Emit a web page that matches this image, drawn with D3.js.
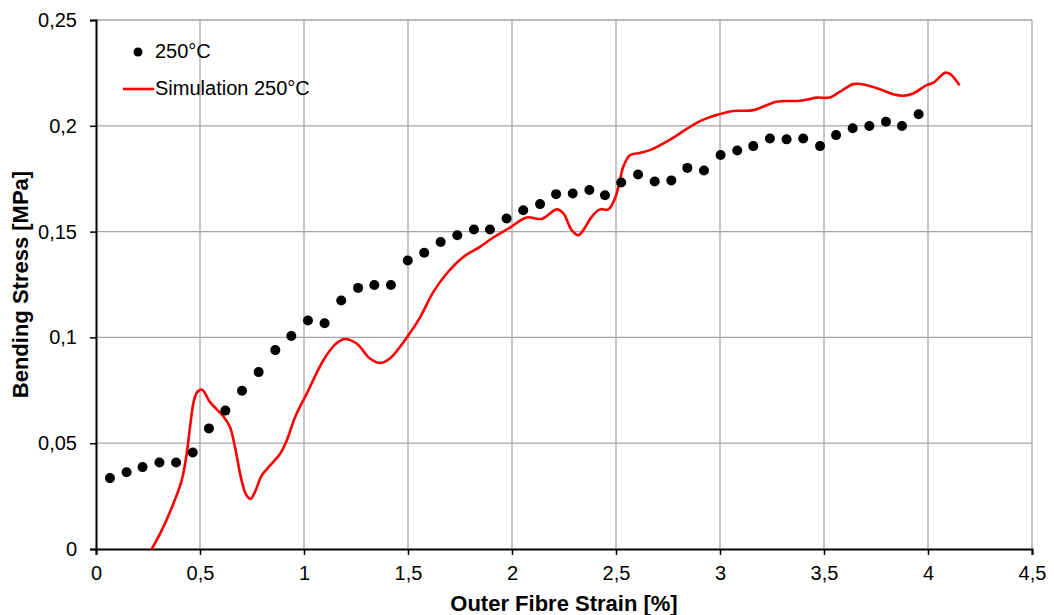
<!DOCTYPE html>
<html>
<head>
<meta charset="utf-8">
<script src="https://cdn.jsdelivr.net/npm/d3@7"></script>
<style>
  body { margin: 0; background: #fff; }
  svg text { font-family: Arial, "Liberation Sans", sans-serif; }
</style>
</head>
<body>
<svg id="chart" width="1054" height="615"></svg>
<script>
// measured points (strain %, stress MPa)
const measStrain = [0.067, 0.147, 0.224, 0.305, 0.385, 0.465, 0.543, 0.622, 0.702, 0.782,
  0.862, 0.939, 1.019, 1.099, 1.179, 1.260, 1.338, 1.418, 1.499, 1.578,
  1.657, 1.737, 1.817, 1.894, 1.974, 2.054, 2.135, 2.212, 2.292, 2.372,
  2.447, 2.525, 2.606, 2.686, 2.766, 2.843, 2.923, 3.003, 3.083, 3.160,
  3.240, 3.320, 3.400, 3.481, 3.558, 3.638, 3.718, 3.798, 3.875, 3.955]
const measStress = [0.0335, 0.0363, 0.0387, 0.0409, 0.0409, 0.0456, 0.057, 0.0654, 0.0748, 0.0836,
  0.094, 0.1007, 0.108, 0.1067, 0.1174, 0.1234, 0.1248, 0.1248, 0.1363, 0.140,
  0.1451, 0.1483, 0.151, 0.151, 0.1562, 0.1601, 0.163, 0.1677, 0.168, 0.1697,
  0.1672, 0.1732, 0.177, 0.1737, 0.1742, 0.1801, 0.1789, 0.1862, 0.1883, 0.1904,
  0.194, 0.1936, 0.194, 0.1904, 0.1956, 0.1988, 0.1999, 0.2019, 0.1999, 0.2055]

// simulation curve
const simStrain = [0.268, 0.316, 0.372, 0.412, 0.436, 0.452, 0.471, 0.487, 0.510, 0.548,
  0.612, 0.644, 0.668, 0.700, 0.724, 0.744, 0.764, 0.797, 0.837, 0.885,
  0.917, 0.957, 1.013, 1.093, 1.149, 1.192, 1.253, 1.317, 1.365, 1.413,
  1.502, 1.558, 1.622, 1.686, 1.766, 1.846, 1.910, 1.990, 2.071, 2.143,
  2.215, 2.247, 2.287, 2.319, 2.343, 2.383, 2.423, 2.463, 2.495, 2.516,
  2.535, 2.567, 2.615, 2.663, 2.760, 2.840, 2.904, 2.984, 3.064, 3.160,
  3.272, 3.384, 3.465, 3.529, 3.577, 3.641, 3.705, 3.769, 3.833, 3.881,
  3.929, 3.993, 4.025, 4.082, 4.106, 4.151]
const simStress = [0, 0.0088, 0.0214, 0.0324, 0.045, 0.0576, 0.0702, 0.0742, 0.0753, 0.0694,
  0.0627, 0.0576, 0.0482, 0.0324, 0.0253, 0.0237, 0.0269, 0.0348, 0.0395, 0.045,
  0.0513, 0.0623, 0.0734, 0.0892, 0.0966, 0.0992, 0.0971, 0.090, 0.0879, 0.090,
  0.101, 0.1095, 0.1215, 0.1302, 0.138, 0.1428, 0.1472, 0.1519, 0.1567, 0.156,
  0.1605, 0.1586, 0.1507, 0.1483, 0.1507, 0.157, 0.1605, 0.1605, 0.1657, 0.1728,
  0.1806, 0.1861, 0.1872, 0.1885, 0.1935, 0.1985, 0.2022, 0.2051, 0.207, 0.2074,
  0.2114, 0.2118, 0.2133, 0.2134, 0.2161, 0.2197, 0.2192, 0.2173, 0.2149, 0.2142,
  0.2153, 0.2192, 0.2203, 0.2251, 0.2245, 0.2192]

const xTicks = [0, 0.5, 1, 1.5, 2, 2.5, 3, 3.5, 4, 4.5]
const yTicks = [0, 0.05, 0.1, 0.15, 0.2, 0.25]
const seriesNames = ["250°C", "Simulation 250°C"]

const svg = d3.select("#chart")
const margin = {left: 96, right: 22, top: 20, bottom: 66}
const W = 1054 - margin.left - margin.right
const H = 615 - margin.top - margin.bottom

const x = d3.scaleLinear().domain([0, 4.5]).range([0, W])
const y = d3.scaleLinear().domain([0, 0.25]).range([H, 0])
const fmt = d => d3.format("~g")(d).replace(".", ",")

const g = svg.append("g").attr("transform", `translate(${margin.left},${margin.top})`)

// grid
g.append("g")
  .selectAll("line")
  .data(xTicks.slice(1))
  .enter()
  .append("line")
  .attr("x1", d => x(d)).attr("x2", d => x(d))
  .attr("y1", 0).attr("y2", H)
  .attr("stroke", "#a6a6a6").attr("stroke-width", 1.3)
g.append("g")
  .selectAll("line")
  .data(yTicks.slice(1))
  .enter()
  .append("line")
  .attr("x1", 0).attr("x2", W)
  .attr("y1", d => y(d)).attr("y2", d => y(d))
  .attr("stroke", "#a6a6a6").attr("stroke-width", 1.3)

// axes
const xAxis = g.append("g")
  .attr("transform", `translate(0,${H})`)
  .call(d3.axisBottom(x).tickValues(xTicks).tickFormat(fmt).tickSize(6).tickPadding(11))
const yAxis = g.append("g")
  .call(d3.axisLeft(y).tickValues(yTicks).tickFormat(fmt).tickSize(6).tickPadding(13))
;[xAxis, yAxis].forEach(a => {
  a.select(".domain").attr("stroke", "#000").attr("stroke-width", 2)
  a.selectAll(".tick line").attr("stroke", "#000").attr("stroke-width", 1.5)
  a.selectAll(".tick text")
    .attr("font-size", 20)
    .attr("font-family", "Arial, 'Liberation Sans', sans-serif")
    .attr("fill", "#000")
})

// simulation line
const line = d3.line()
  .x((d, i) => x(simStrain[i]))
  .y(d => y(d))
  .curve(d3.curveCatmullRom)
g.append("path")
  .datum(simStress)
  .attr("d", line)
  .attr("fill", "none")
  .attr("stroke", "#ff0000")
  .attr("stroke-width", 2.6)
  .attr("stroke-linejoin", "round")

// measured dots
g.append("g")
  .selectAll("circle")
  .data(measStress)
  .enter()
  .append("circle")
  .attr("cx", (d, i) => x(measStrain[i]))
  .attr("cy", d => y(d))
  .attr("r", 5)
  .attr("fill", "#000")

// legend
const leg = svg.append("g")
leg.append("circle").attr("cx", 138).attr("cy", 52).attr("r", 4.5).attr("fill", "#000")
leg.append("text").text(seriesNames[0])
  .attr("x", 155).attr("y", 58).attr("font-size", 20)
leg.append("line").attr("x1", 123).attr("x2", 154).attr("y1", 89).attr("y2", 89)
  .attr("stroke", "#ff0000").attr("stroke-width", 2.6)
leg.append("text").text(seriesNames[1])
  .attr("x", 155).attr("y", 95).attr("font-size", 20)

// axis titles
svg.append("text")
  .text("Outer Fibre Strain [%]")
  .attr("x", margin.left + W / 2)
  .attr("y", 611)
  .attr("text-anchor", "middle")
  .attr("font-size", 22)
  .attr("font-weight", "bold")
svg.append("text")
  .text("Bending Stress [MPa]")
  .attr("transform", `translate(28,${margin.top + H / 2}) rotate(-90)`)
  .attr("text-anchor", "middle")
  .attr("font-size", 22)
  .attr("font-weight", "bold")
</script>
</body>
</html>
